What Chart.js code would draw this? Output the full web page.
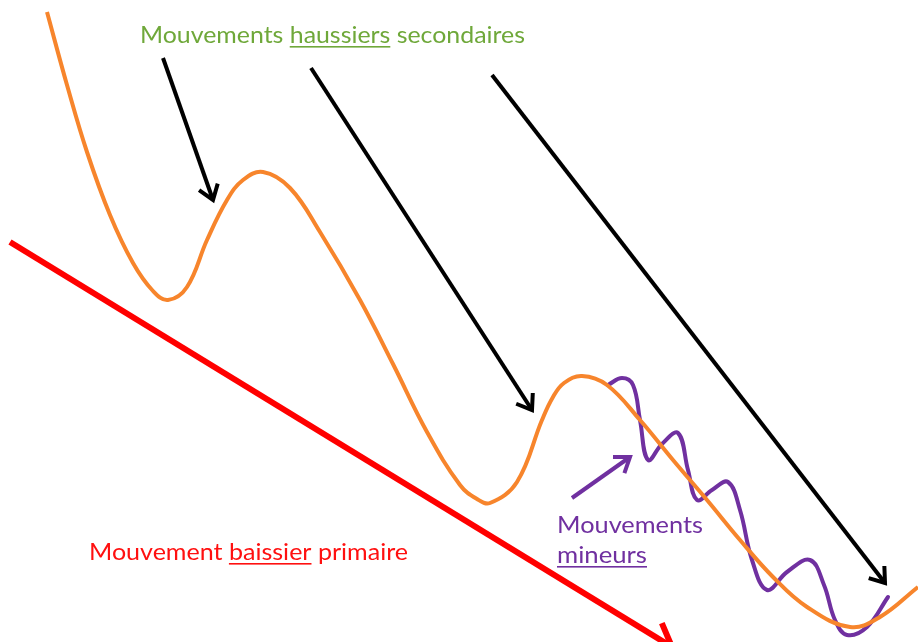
<!DOCTYPE html>
<html><head><meta charset="utf-8">
<script src="https://cdn.jsdelivr.net/npm/chart.js@4.4.1/dist/chart.umd.min.js"></script>
<style>html,body{margin:0;padding:0;background:#fff;overflow:hidden}#wrap{width:918px;height:642px;position:relative}</style>
</head><body><div id="wrap"><canvas id="c" width="918" height="642"></canvas></div>
<script>
// Secondary (orange) movement
const secondaryX = [47,67,87,110,133,153,168,187,207,227,243,263,290,320,360,393,427,460,477,490,517,542,553,564,582,607,640,673,707,740,773,807,850,880,918];
const secondaryY = [12,85,152,215,263,291,300,287,240,200,180,172,188,232,300,364,432,485,499,503,482,420,397,383,376,385,420,460,500,540,577,607,627,617,587];
// Minor (purple) movements
const minorX = [608,622,633,640,648,662,678,688,697,712,728,740,752,767,787,810,824,835,847,867,888];
const minorY = [385,378,385,420,460,444,433,470,500,490,482,510,560,590,572,560,585,620,635,627,597];
// Primary (red) trend
const primaryX = [10,672];
const primaryY = [242,647];
// Black arrows (start x, start y, end x, end y)
const arrowStartX = [163,311,492];
const arrowStartY = [58,68,75];
const arrowEndX = [213,532,885];
const arrowEndY = [200,410,583];
// Purple pointer arrow
const minorArrowX = [572,630];
const minorArrowY = [498,457];
// Text labels
const labelTexts = ['Mouvements haussiers secondaires','Mouvement baissier primaire','Mouvements','mineurs'];
const labelUnderlined = ['haussiers','baissier','','mineurs'];
const labelX = [140,89,557,557];
const labelY = [43,560,533,563];
const labelRight = [525,408,703,647];
const labelColors = ['#6FA83A','#FF1010','#7030A0','#7030A0'];

const pts = (xs, ys) => xs.map((x, i) => ({x, y: ys[i]}));

const datasets = [
  {data: pts(primaryX, primaryY), borderColor:'#FF0000', borderWidth:6, arrowHead:{len:26, ang:0.62}},
  {data: pts(secondaryX, secondaryY), borderColor:'#F7852C', borderWidth:4, tension:0.4},
  {data: pts(minorX, minorY), borderColor:'#7030A0', borderWidth:4, tension:0.4, borderCapStyle:'round'},
  {data: pts(minorArrowX, minorArrowY), borderColor:'#7030A0', borderWidth:4, arrowHead:{len:17, ang:0.62}}
];
arrowStartX.forEach((sx, i) => {
  datasets.push({data: pts([sx, arrowEndX[i]], [arrowStartY[i], arrowEndY[i]]), borderColor:'#000', borderWidth:4, arrowHead:{len:17, ang:0.62}});
});
datasets.forEach(d => { d.showLine = true; d.pointRadius = 0; d.fill = false; d.clip = false; if (d.tension === undefined) d.tension = 0; });

const arrowPlugin = {
  id:'arrows',
  afterDatasetsDraw(chart) {
    const ctx = chart.ctx;
    chart.data.datasets.forEach((ds, i) => {
      if (!ds.arrowHead) return;
      const meta = chart.getDatasetMeta(i);
      const n = meta.data.length;
      const a = meta.data[n-2], b = meta.data[n-1];
      const th = Math.atan2(b.y - a.y, b.x - a.x);
      const L = ds.arrowHead.len, g = ds.arrowHead.ang;
      ctx.save();
      ctx.strokeStyle = ds.borderColor; ctx.lineWidth = ds.borderWidth;
      ctx.lineJoin = 'miter'; ctx.lineCap = 'butt';
      ctx.beginPath();
      ctx.moveTo(b.x - L*Math.cos(th - g), b.y - L*Math.sin(th - g));
      ctx.lineTo(b.x, b.y);
      ctx.lineTo(b.x - L*Math.cos(th + g), b.y - L*Math.sin(th + g));
      ctx.stroke();
      ctx.restore();
    });
  }
};

const textPlugin = {
  id:'texts',
  afterDraw(chart) {
    const ctx = chart.ctx, xs = chart.scales.x, ys = chart.scales.y;
    labelTexts.forEach((t, i) => {
      const px = xs.getPixelForValue(labelX[i]);
      const py = ys.getPixelForValue(labelY[i]);
      const target = xs.getPixelForValue(labelRight[i]) - px;
      ctx.save();
      ctx.font = '23px Lato';
      ctx.fillStyle = labelColors[i];
      ctx.textBaseline = 'alphabetic';
      ctx.textAlign = 'left';
      const w = ctx.measureText(t).width;
      const sx = target / w;
      ctx.translate(px, py);
      ctx.scale(sx, 1);
      ctx.fillText(t, 0, 0);
      const u = labelUnderlined[i];
      if (u) {
        const k = t.indexOf(u);
        const x0 = ctx.measureText(t.slice(0, k)).width;
        const uw = ctx.measureText(u).width;
        ctx.fillRect(x0, 3, uw, 1.6);
      }
      ctx.restore();
    });
  }
};

new Chart(document.getElementById('c'), {
  type:'scatter',
  data:{datasets},
  options:{
    responsive:false, animation:false,
    layout:{padding:0},
    plugins:{legend:{display:false}, tooltip:{enabled:false}},
    scales:{
      x:{type:'linear', min:0, max:918, display:false},
      y:{type:'linear', min:0, max:642, reverse:true, display:false}
    }
  },
  plugins:[arrowPlugin, textPlugin]
});
</script>
</body></html>
